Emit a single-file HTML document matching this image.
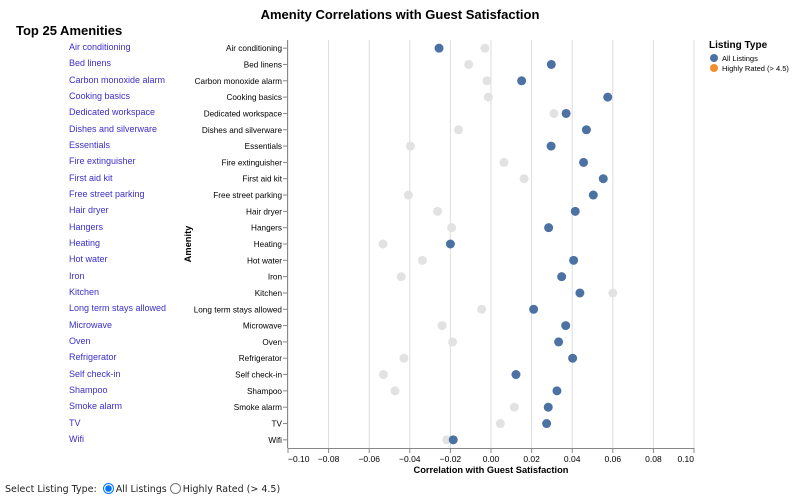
<!DOCTYPE html>
<html><head><meta charset="utf-8"><style>
body{margin:0;width:800px;height:499px;background:#fff;font-family:"Liberation Sans",Arial,sans-serif;overflow:hidden;position:relative}
#left{position:absolute;left:16px;top:23px}
#left h2{margin:0;font-size:13px;font-weight:bold;color:#000}
.am{position:absolute;left:69px;font-size:9px;color:#3b2fc9;cursor:pointer;white-space:nowrap}
#ctl{position:absolute;left:5px;top:483px;font-size:9.5px;color:#222;font-family:"DejaVu Sans","Liberation Sans",sans-serif}
#ctl label{margin-left:3px}
#ctl input{margin:0 2px 0 0;vertical-align:-2px;width:11px;height:11px}
svg{position:absolute;left:0;top:0}
svg text{font-family:"Liberation Sans",Arial,sans-serif}
</style></head><body>
<div id="left"><h2>Top 25 Amenities</h2></div>
<div id="links"></div>
<svg id="chart" width="800" height="499"></svg>
<div id="ctl">Select Listing Type: <label><input type="radio" name="lt" checked>All Listings</label><label><input type="radio" name="lt">Highly Rated (&gt; 4.5)</label></div>
<script>
const amenities=["Air conditioning","Bed linens","Carbon monoxide alarm","Cooking basics","Dedicated workspace","Dishes and silverware","Essentials","Fire extinguisher","First aid kit","Free street parking","Hair dryer","Hangers","Heating","Hot water","Iron","Kitchen","Long term stays allowed","Microwave","Oven","Refrigerator","Self check-in","Shampoo","Smoke alarm","TV","Wifi"];
const allListings=[-0.0256,0.0297,0.0151,0.0575,0.037,0.047,0.0296,0.0456,0.0553,0.0504,0.0415,0.0284,-0.020,0.0407,0.0348,0.0438,0.021,0.0368,0.0333,0.0402,0.0123,0.0325,0.0282,0.0274,-0.0186];
const highlyRated=[-0.003,-0.011,-0.002,-0.0013,0.031,-0.016,-0.0397,0.0064,0.0163,-0.0407,-0.0263,-0.0194,-0.0532,-0.0338,-0.0442,0.060,-0.0046,-0.0241,-0.0189,-0.0429,-0.053,-0.0473,0.0115,0.0046,-0.0218];
const xTicks=[-0.10,-0.08,-0.06,-0.04,-0.02,0.00,0.02,0.04,0.06,0.08,0.10];

const NS="http://www.w3.org/2000/svg";
const svg=document.getElementById('chart');
const X0=288,X1=694,Y0=40,Y1=448;
const step=(Y1-Y0)/amenities.length;
const xs=v=>X0+(v+0.1)/0.2*(X1-X0);
const ys=i=>Y0+step*(i+0.5);
function el(t,a,p){const e=document.createElementNS(NS,t);for(const k in a)e.setAttribute(k,a[k]);(p||svg).appendChild(e);return e;}
function txt(s,a){const e=el('text',a);e.textContent=s;return e;}
const fmt=v=>(v<0?'\u22120':'0')+Math.abs(v).toFixed(2).slice(1);

xTicks.forEach((v,i)=>{
  const g=el('line',{x1:xs(v),x2:xs(v),y1:Y0,y2:Y1,stroke:'#ddd','stroke-width':1});
  
  
  const tk=el('line',{x1:xs(v),x2:xs(v),y1:Y1,y2:Y1+5,stroke:'#888'});
  
  
  const anchor=i===0?'start':(i===xTicks.length-1?'end':'middle');
  const t=txt(fmt(v),{x:xs(v),y:Y1+14,'font-size':8.5,fill:'#000','text-anchor':anchor});
  
  
});
const ax=el('line',{x1:X0,x2:X1,y1:Y1+0.5,y2:Y1+0.5,stroke:'#888'});


const ay=el('line',{x1:X0-0.5,x2:X0-0.5,y1:Y0,y2:Y1,stroke:'#888'});



const links=document.getElementById('links');
amenities.forEach((a,i)=>{
  const tk=el('line',{x1:X0-5,x2:X0,y1:ys(i),y2:ys(i),stroke:'#888'});
  
  
  const t=txt(a,{x:X0-6,y:ys(i)+3,'font-size':8.2,fill:'#000','text-anchor':'end'});
  
  
  const d=document.createElement('div');
  d.className='am';d.style.top=(ys(i)-6)+'px';d.textContent=a;
  
  
  links.appendChild(d);
});
highlyRated.forEach((v,i)=>{
  const c=el('circle',{cx:xs(v),cy:ys(i),r:4.5,fill:'#e2e2e2'});
  
  
});
allListings.forEach((v,i)=>{
  const c=el('circle',{cx:xs(v),cy:ys(i),r:4.5,fill:'#4c72a4'});
  
  
});
let t;
t=txt('Amenity Correlations with Guest Satisfaction',{x:400,y:19,'font-size':13,'font-weight':'bold','text-anchor':'middle',fill:'#000'});


t=txt('Correlation with Guest Satisfaction',{x:(X0+X1)/2,y:Y1+25,'font-size':9.3,'font-weight':'bold','text-anchor':'middle',fill:'#000'});


t=txt('Amenity',{x:0,y:0,'font-size':9.3,'font-weight':'bold','text-anchor':'middle',fill:'#000',transform:'translate(191,244) rotate(-90)'});


t=txt('Listing Type',{x:709,y:48,'font-size':10,'font-weight':'bold',fill:'#000'});


[['All Listings','#4c72a4'],['Highly Rated (> 4.5)','#f28e2b']].forEach((l,i)=>{
  const c=el('circle',{cx:714,cy:58+i*10,r:4,fill:l[1]});
  
  
  const lt=txt(l[0],{x:722,y:61+i*10,'font-size':7.5,fill:'#000'});
  
  
});
</script>
</body></html>
